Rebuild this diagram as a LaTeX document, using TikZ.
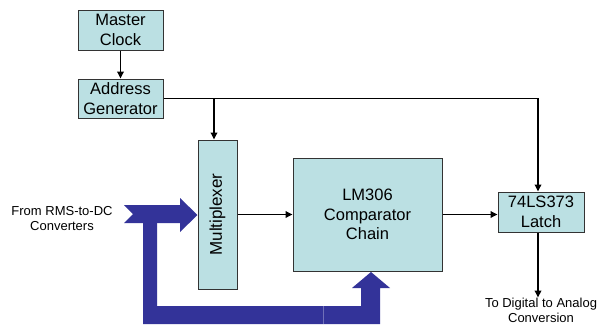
\documentclass[tikz,border=0pt]{standalone}
\usepackage{fontspec}
\setmainfont{Liberation Sans}
\usetikzlibrary{arrows.meta}
\definecolor{boxfill}{HTML}{BBE0E3}
\definecolor{busblue}{HTML}{333399}
\tikzset{
  blk/.style={draw=black!80, line width=1pt, fill=boxfill, inner sep=0pt, align=center,
    font=\fontsize{16.5}{19.5}\selectfont},
  arr/.style={line width=1.7pt, -{Triangle[length=7pt,width=6.5pt]}},
  wire/.style={line width=1.7pt},
  lbl/.style={align=center, inner sep=0pt, font=\fontsize{13}{15}\selectfont},
  bus/.style={fill=busblue, draw=none}
}
\begin{document}
\begin{tikzpicture}[x=1pt,y=-1pt]
\useasboundingbox (0,0) rectangle (599,324);
% blocks
\node[blk, minimum width=85pt, minimum height=40pt] (mc) at (120.5,30) {Master\\Clock};
\node[blk, minimum width=85pt, minimum height=39pt] (ag) at (120.5,98.5) {Address\\Generator};
\node[blk, minimum width=39pt, minimum height=149pt] (mux) at (217.5,214.5) {};
\node[rotate=90, font=\fontsize{17}{19}\selectfont, inner sep=0pt] (muxt) at (mux.center) {Multiplexer};
\node[blk, minimum width=149pt, minimum height=113pt] (comp) at (367.5,214.5) {LM306\\Comparator\\Chain};
\node[blk, minimum width=86pt, minimum height=40pt] (latch) at (541,212) {74LS373\\Latch};
% labels
\node[lbl] (in) at (62,219) {From RMS-to-DC\\Converters};
\node[lbl] (out) at (541,310) {To Digital to Analog\\Conversion};
% bus arrows
\fill[bus] (124,205) -- (180,205) -- (180,198) -- (197.5,215) -- (180,232) -- (180,223)
  -- (124,223) -- (133,214) -- cycle;
\fill[bus] (143,222) -- (157,222) -- (157,306) -- (361,306) -- (361,288) -- (352,288)
  -- (371,272) -- (390,288) -- (380,288) -- (380,324) -- (143,324) -- cycle;
\draw[busblue!70!white, line width=0.6pt] (323,306) -- (323,324);
% connectors
\draw[arr] (mc) -- (ag);
\coordinate (br) at ([xshift=-3.5pt]ag.east -| mux.north);
\coordinate (lt) at ([xshift=-3pt]latch.north);
\draw[wire] (ag.east) -- (br);
\draw[arr] (br) -| (lt);
\draw[arr] (br) -- (br |- mux.north);
\draw[arr] (mux.east) -- (comp.west);
\draw[arr] (comp.east) -- (comp.east -| latch.west);
\draw[arr] (lt |- latch.south) -- (lt |- out.north);
\end{tikzpicture}
\end{document}
